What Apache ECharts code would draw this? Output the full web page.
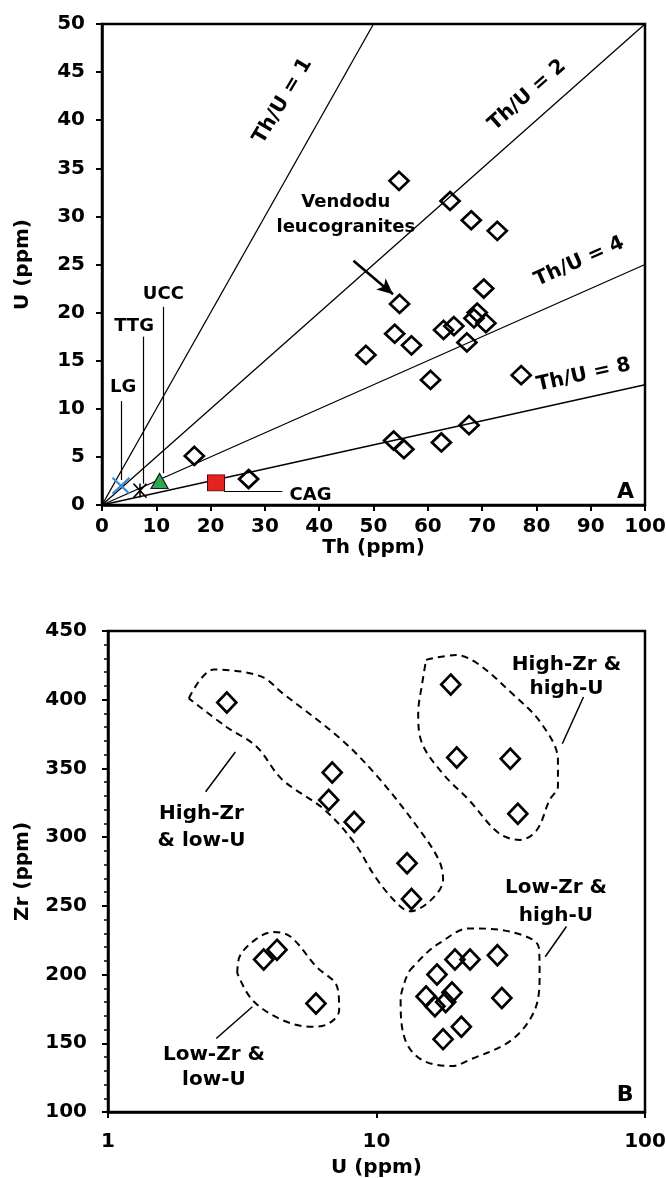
<!DOCTYPE html>
<html><head><meta charset="utf-8">
<script src="https://cdn.jsdelivr.net/npm/echarts@6.0.0/dist/echarts.min.js"></script>
<style>html,body{margin:0;padding:0;background:#fff}#c{width:666px;height:1178px}</style>
</head><body><div id="c"></div>
<script>
// ---------- Panel A: Th vs U ----------
const vendoduTh = [17, 27, 54.7, 64.1, 68, 72.8, 70.3, 54.8, 69.1, 68.5, 70.7, 64.8, 62.9, 53.9, 57, 67.2, 48.6, 60.5, 77.2, 53.7, 55.6, 62.5, 67.6];
const vendoduU  = [5.1, 2.7, 33.7, 31.6, 29.6, 28.5, 22.5, 20.9, 20.0, 19.4, 18.9, 18.6, 18.2, 17.8, 16.6, 16.9, 15.6, 13.0, 13.5, 6.7, 5.8, 6.5, 8.3];
const refNames = ['LG', 'TTG', 'UCC', 'CAG'];
const refTh = [3.5, 7, 10.6, 21];
const refU  = [2.0, 1.5, 2.5, 2.3];
const thuRatios = [1, 2, 4, 8];
const thTicks = [0, 100, 10];
const uTicks = [0, 50, 5];

// ---------- Panel B: U vs Zr ----------
const groupU  = [2.77, 18.9, 19.9, 31.5, 6.84, 6.64, 8.26, 33.6, 13.0, 13.5, 3.8, 4.26, 16.8, 19.6, 22.3, 28.2, 5.95, 15.3, 19.1, 18.1, 16.5, 29.3, 20.7, 17.7];
const groupZr = [398, 411, 358, 357, 347, 327, 311, 317, 281, 255, 211, 218, 200, 211, 211, 214, 179, 184, 187, 180, 177, 183, 162, 153];
const zrTicks = [100, 450, 50];
const uLogRange = [1, 100];

// dashed envelopes (U, Zr) around groups
const envHighZrLowU = [[2.0,401],[2.48,422],[3.71,417],[4.45,405],[7.4,371],[10.3,342],[14.5,305],[17.1,283],[17.7,269],[15.9,254],[13.3,246],[11.9,252],[9.9,271],[8.26,296],[6.4,320],[4.45,342],[3.57,366],[2.77,380],[2.0,401]];
const envHighZrHighU = [[15.3,429],[19.8,432.5],[23.7,426.5],[31.8,405],[41,383],[47.4,356],[47.4,337],[44.1,327],[39.5,305],[34.2,298],[28.5,303],[22.1,327],[17.7,346],[14.8,368],[14.3,390],[14.8,412],[15.3,429]];
const envLowZrLowU = [[3.03,201],[3.09,213],[3.57,226],[4.14,231],[4.79,227.5],[5.95,206],[7.14,191],[7.26,174],[6.64,164.4],[5.74,162],[4.45,167],[3.45,181.4],[3.03,201]];
const envLowZrHighU = [[13.3,203],[15.3,215.4],[17.1,222.7],[22.1,233.6],[31.8,231],[40.2,220],[40.5,200],[38.8,174],[31.8,152.3],[22.1,137.8],[19.1,133.4],[14.8,137.8],[12.8,152.3],[12.3,181.4],[12.8,196],[13.3,203]];

const FONT = 'DejaVu Sans';
const black = '#000';

function zip(a, b) { return a.map((v, i) => [v, b[i]]); }

function axisCommon(extra) {
  return Object.assign({
    axisLine: { show: true, onZero: false, lineStyle: { color: black, width: 2.5 } },
    axisTick: { show: true, inside: false, length: 6, lineStyle: { color: black, width: 2 } },
    splitLine: { show: false },
    nameTextStyle: { color: black, fontFamily: FONT, fontWeight: 'bold', fontSize: 20 }
  }, extra);
}
function tickLabel(margin) {
  return { color: black, fontFamily: FONT, fontWeight: 'bold', fontSize: 20, margin: margin, showMaxLabel: true, showMinLabel: true };
}

function textItem(x, y, txt, opts) {
  return {
    value: [x, y],
    label: Object.assign({
      show: true, formatter: txt, position: 'inside', color: black, opacity: 1,
      fontFamily: FONT, fontWeight: 'bold', fontSize: 18, align: 'center', verticalAlign: 'middle'
    }, opts || {})
  };
}
function seg(a, b, arrow) {
  return [{ coord: a, symbol: 'none' }, { coord: b, symbol: arrow ? 'arrow' : 'none', symbolSize: arrow ? [11, 16] : 0 }];
}

// ratio lines
const ratioSeries = thuRatios.map(r => {
  const thEnd = Math.min(thTicks[1], uTicks[1] * r);
  return {
    type: 'line', xAxisIndex: 0, yAxisIndex: 0, symbol: 'none', silent: true, z: 1,
    lineStyle: { color: black, width: 1.3 },
    data: [[0, 0], [thEnd, thEnd / r]]
  };
});

const refSymbols = [
  { symbol: 'path://M0,0L10,10M10,0L0,10', symbolSize: [17, 16], itemStyle: { color: 'none', borderColor: '#3B8ED4', borderWidth: 2.2, opacity: 1 } },
  { symbol: 'path://M0,0L10,10M10,0L0,10M5,0L5,10', symbolSize: [13, 14], itemStyle: { color: 'none', borderColor: black, borderWidth: 1.6, opacity: 1 } },
  { symbol: 'triangle', symbolSize: [17, 15], itemStyle: { color: '#2EA84E', borderColor: '#1a1a1a', borderWidth: 1.2, opacity: 1 } },
  { symbol: 'rect', symbolSize: [17, 16], itemStyle: { color: '#E5231E', borderColor: '#5a0000', borderWidth: 1, opacity: 1 } }
];
const refSeries = refNames.map((n, i) => Object.assign({
  type: 'scatter', name: n, xAxisIndex: 0, yAxisIndex: 0, z: 4,
  data: [[refTh[i], refU[i]]]
}, refSymbols[i]));

const lineLabelSize = 20;
const annA = {
  type: 'scatter', xAxisIndex: 0, yAxisIndex: 0, symbolSize: 1, z: 6,
  itemStyle: { color: 'rgba(0,0,0,0)', opacity: 1 },
  data: [
    textItem(33.3, 42, 'Th/U = 1', { rotate: 59, fontSize: lineLabelSize }),
    textItem(78.3, 42.6, 'Th/U = 2', { rotate: 41.5, fontSize: lineLabelSize }),
    textItem(87.9, 25.3, 'Th/U = 4', { rotate: 24, fontSize: lineLabelSize }),
    textItem(88.7, 13.5, 'Th/U = 8', { rotate: 12.5, fontSize: lineLabelSize }),
    textItem(44.9, 30.2, 'Vendodu\nleucogranites', { lineHeight: 25 }),
    textItem(11.3, 21.9, 'UCC'),
    textItem(5.9, 18.6, 'TTG'),
    textItem(3.9, 12.2, 'LG'),
    textItem(38.4, 1.0, 'CAG'),
    textItem(96.4, 1.3, 'A', { fontSize: 22 })
  ],
  markLine: {
    silent: true, animation: false, label: { show: false },
    lineStyle: { color: black, width: 1.2, type: 'solid' },
    data: [
      seg([11.3, 20.6], [11.3, 3.3]),
      seg([7.6, 17.5], [7.6, 2.2]),
      seg([3.5, 10.8], [3.5, 2.6]),
      seg([22.5, 1.45], [33.2, 1.45]),
      seg([46.3, 25.4], [53.6, 21.9], true)
    ]
  }
};
annA.markLine.data[4][0].lineStyle = { width: 2.6 };

const envSeries = [envHighZrLowU, envHighZrHighU, envLowZrLowU, envLowZrHighU].map(e => ({
  type: 'line', xAxisIndex: 1, yAxisIndex: 1, symbol: 'none', silent: true, smooth: 0.35, z: 2,
  lineStyle: { color: black, width: 2, type: [7, 5] },
  data: e
}));

const annB = {
  type: 'scatter', xAxisIndex: 1, yAxisIndex: 1, symbolSize: 1, z: 6,
  itemStyle: { color: 'rgba(0,0,0,0)', opacity: 1 },
  data: [
    textItem(51, 416.5, 'High-Zr &\nhigh-U', { lineHeight: 24, fontSize: 20 }),
    textItem(2.23, 307, 'High-Zr\n& low-U', { lineHeight: 27, fontSize: 20 }),
    textItem(46.6, 253, 'Low-Zr &\nhigh-U', { lineHeight: 28, fontSize: 20 }),
    textItem(2.48, 132.5, 'Low-Zr &\nlow-U', { lineHeight: 25, fontSize: 20 }),
    textItem(84.3, 112, 'B', { fontSize: 22 })
  ],
  markLine: {
    silent: true, animation: false, label: { show: false }, symbol: 'none',
    lineStyle: { color: black, width: 1.5, type: 'solid' },
    data: [
      seg([59, 402], [49.2, 368]),
      seg([2.31, 333], [2.98, 362]),
      seg([51, 235], [42.5, 213]),
      seg([2.53, 153.5], [3.45, 176.6])
    ]
  }
};

const diamondStyle = { color: 'rgba(255,255,255,0)', borderColor: black, borderWidth: 2.7, opacity: 1 };

const option = {
  backgroundColor: '#fff',
  animation: false,
  grid: [
    { left: 102, top: 24, width: 543, height: 481, show: true, borderColor: black, borderWidth: 2.5, backgroundColor: 'rgba(0,0,0,0)', outerBoundsMode: 'none', containLabel: false },
    { left: 108, top: 631, width: 537, height: 481, show: true, borderColor: black, borderWidth: 2.5, backgroundColor: 'rgba(0,0,0,0)', outerBoundsMode: 'none', containLabel: false }
  ],
  xAxis: [
    axisCommon({ type: 'value', gridIndex: 0, min: thTicks[0], max: thTicks[1], interval: thTicks[2],
      name: 'Th (ppm)', nameLocation: 'middle', nameGap: 30, axisLabel: tickLabel(12) }),
    axisCommon({ type: 'log', logBase: 10, gridIndex: 1, min: uLogRange[0], max: uLogRange[1],
      name: 'U (ppm)', nameLocation: 'middle', nameGap: 46, axisLabel: tickLabel(20) })
  ],
  yAxis: [
    axisCommon({ type: 'value', gridIndex: 0, min: uTicks[0], max: uTicks[1], interval: uTicks[2],
      name: 'U (ppm)', nameLocation: 'middle', nameGap: 69, nameRotate: 90, axisLabel: tickLabel(17) }),
    axisCommon({ type: 'value', gridIndex: 1, min: zrTicks[0], max: zrTicks[1], interval: zrTicks[2],
      name: 'Zr (ppm)', nameLocation: 'middle', nameGap: 75, nameRotate: 90,
      minorTick: { show: true, splitNumber: 5, length: 4, lineStyle: { color: black, width: 1.5 } },
      axisLabel: tickLabel(21) })
  ],
  series: [
    ...ratioSeries,
    ...refSeries,
    { type: 'scatter', name: 'Vendodu', xAxisIndex: 0, yAxisIndex: 0, z: 5,
      symbol: 'diamond', symbolSize: [19, 18], itemStyle: diamondStyle,
      data: zip(vendoduTh, vendoduU) },
    annA,
    ...envSeries,
    { type: 'scatter', name: 'Groups', xAxisIndex: 1, yAxisIndex: 1, z: 5,
      symbol: 'diamond', symbolSize: [19, 20], itemStyle: diamondStyle,
      data: zip(groupU, groupZr) },
    annB
  ]
};

const chart = echarts.init(document.getElementById('c'), null, { renderer: 'canvas' });
chart.setOption(option);
</script>
</body></html>
